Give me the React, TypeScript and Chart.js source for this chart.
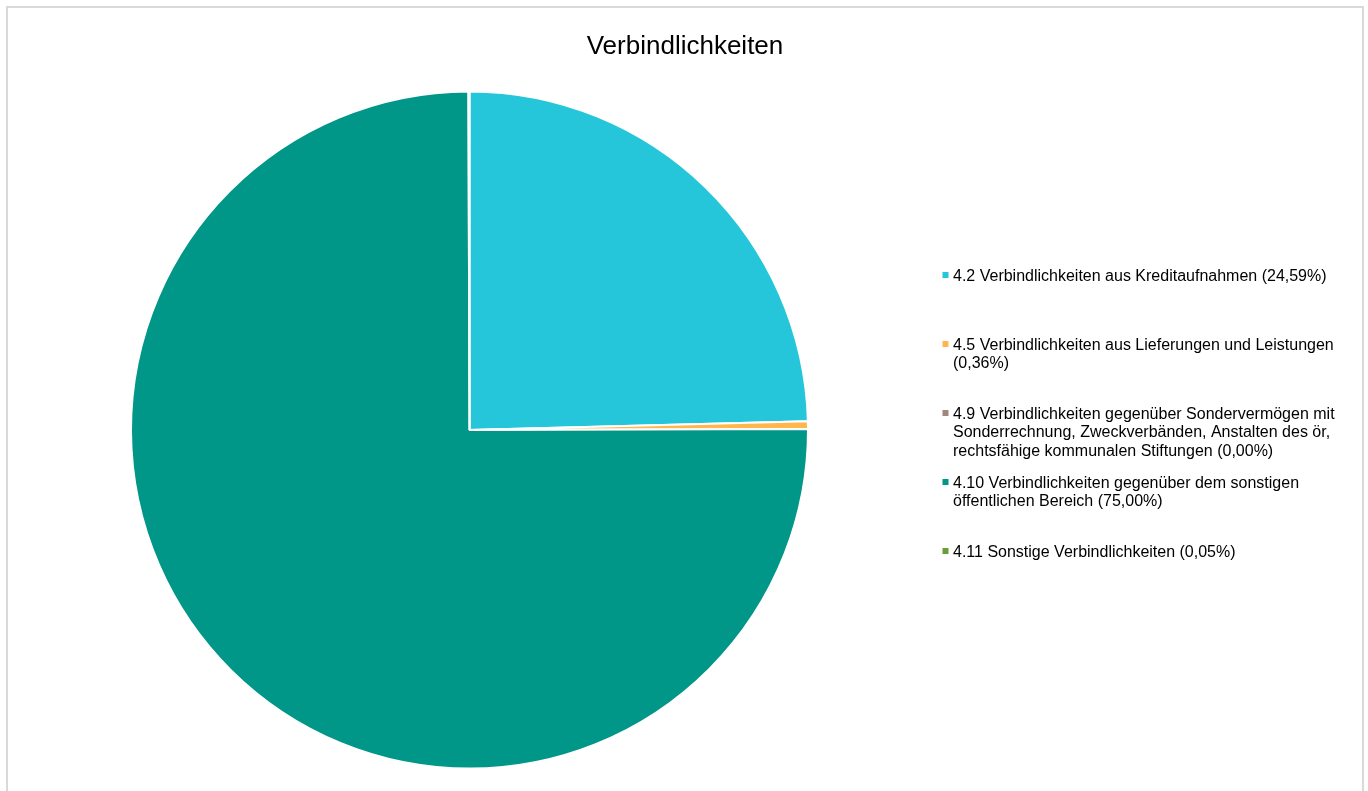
import React, { useEffect, useRef } from "react";
import { Chart, registerables } from "chart.js";

Chart.register(...registerables);

const TITLE = "Verbindlichkeiten";

const categories = [
  "4.2 Verbindlichkeiten aus Kreditaufnahmen",
  "4.5 Verbindlichkeiten aus Lieferungen und Leistungen",
  "4.9 Verbindlichkeiten gegenüber Sondervermögen mit Sonderrechnung, Zweckverbänden, Anstalten des ör, rechtsfähige kommunalen Stiftungen",
  "4.10 Verbindlichkeiten gegenüber dem sonstigen öffentlichen Bereich",
  "4.11 Sonstige Verbindlichkeiten",
];

const shares = [24.59, 0.36, 0.0, 75.0, 0.05];

const sliceColors = ["#26C6DA", "#FFB74D", "#A1887F", "#009688", "#689F38"];

const FONT = '"Liberation Sans", Arial, sans-serif';

function fmtPct(v: number): string {
  return v.toLocaleString("de-DE", { minimumFractionDigits: 2, maximumFractionDigits: 2 }) + "%";
}

function wrap(ctx: CanvasRenderingContext2D, text: string, maxWidth: number): string[] {
  const words = text.split(" ");
  const lines: string[] = [];
  let cur = "";
  for (const w of words) {
    const test = cur ? cur + " " + w : w;
    if (cur && ctx.measureText(test).width > maxWidth) {
      lines.push(cur);
      cur = w;
    } else {
      cur = test;
    }
  }
  if (cur) lines.push(cur);
  return lines;
}

const overlayPlugin = {
  id: "overlayTitleLegend",
  afterDraw(chart: any) {
    const ctx: CanvasRenderingContext2D = chart.ctx;
    ctx.save();
    // Title
    ctx.fillStyle = "#000000";
    ctx.font = `26px ${FONT}`;
    ctx.textAlign = "center";
    ctx.textBaseline = "alphabetic";
    ctx.fillText(TITLE, chart.width / 2, 45.5);

    // Legend
    const labels: string[] = chart.data.labels;
    const ds = chart.data.datasets[0];
    const textX = 945;
    const markerX = 934.5;
    const firstBaseline = 273;
    const itemStep = 69;
    const lineStep = 18.4;
    ctx.font = `16px ${FONT}`;
    ctx.textAlign = "left";
    labels.forEach((lab, i) => {
      const full = `${lab} (${fmtPct(ds.data[i])})`;
      const lines = wrap(ctx, full, 410);
      const base = firstBaseline + i * itemStep;
      ctx.fillStyle = ds.backgroundColor[i];
      ctx.fillRect(markerX, base - 9, 6, 6);
      ctx.fillStyle = "#000000";
      lines.forEach((ln, j) => {
        ctx.fillText(ln, textX, base + j * lineStep);
      });
    });
    ctx.restore();
  },
};

export default function App() {
  const canvasRef = useRef<HTMLCanvasElement | null>(null);

  useEffect(() => {
    if (!canvasRef.current) return;
    const chart = new Chart(canvasRef.current, {
      type: "pie",
      data: {
        labels: categories,
        datasets: [
          {
            data: shares,
            backgroundColor: sliceColors,
            borderColor: "#ffffff",
            borderWidth: 2,
          },
        ],
      },
      options: {
        animation: false,
        responsive: true,
        maintainAspectRatio: false,
        radius: 338.5,
        layout: {
          padding: { left: 121.5, right: 552.5, top: 82, bottom: 21 },
        },
        plugins: {
          legend: { display: false },
          title: { display: false },
          tooltip: { enabled: false },
        },
        events: [],
      } as any,
      plugins: [overlayPlugin as any],
    });
    return () => chart.destroy();
  }, []);

  return (
    <div
      style={{
        position: "absolute",
        left: 6,
        top: 6,
        width: 1358,
        height: 785,
        boxSizing: "border-box",
        borderTop: "2px solid #d9d9d9",
        borderLeft: "2px solid #d9d9d9",
        borderRight: "2px solid #d9d9d9",
        background: "#ffffff",
      }}
    >
      <div style={{ position: "relative", width: 1354, height: 783 }}>
        <canvas ref={canvasRef} />
      </div>
    </div>
  );
}
